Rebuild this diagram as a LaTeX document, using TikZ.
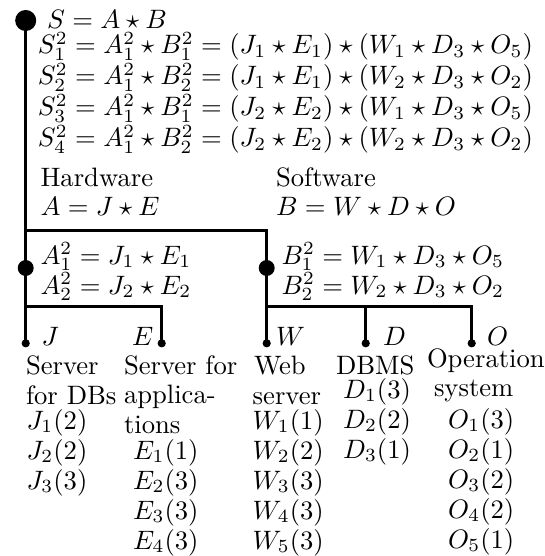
\documentclass[tikz,border=0pt]{standalone}
\begin{document}
\begin{tikzpicture}[x=0.3756pt,y=-0.3756pt,
  txt/.style={anchor=base west, inner sep=0pt, outer sep=0pt},
  bigdot/.style={circle, fill=black, draw=none, inner sep=0pt, minimum size=7.9pt},
  middot/.style={circle, fill=black, draw=none, inner sep=0pt, minimum size=6.0pt},
  leafdot/.style={circle, fill=black, draw=none, inner sep=0pt, minimum size=3.1pt},
  conn/.style={line width=1.0pt, black}]
\useasboundingbox (0,0) rectangle (544,556);
% dots
\node[bigdot] (S) at (25.7,20.5) {};
\node[middot] (A) at (25.7,268) {};
\node[middot] (B) at (266.7,268) {};
\node[leafdot] (J) at (25.7,343.3) {};
\node[leafdot] (E) at (161.7,343.3) {};
\node[leafdot] (W) at (266.7,343.3) {};
\node[leafdot] (D) at (365.7,343.3) {};
\node[leafdot] (O) at (471.7,343.3) {};
\coordinate (h1) at (25.7,230.7);
\coordinate (h2) at (25.7,306.7);
\coordinate (h3) at (266.7,306.7);
\coordinate (h4) at (365.7,306.7);
% connectors
\draw[conn] (S.center) -- (A.center) -- (J.center);
\draw[conn] (h1) -| (B.center) -- (W.center);
\draw[conn] (h2) -| (E.center);
\draw[conn] (h3) -| (O.center);
\draw[conn] (h4) -- (D.center);
% top texts
\node[txt] (tS) at (47,28.5) {$S = A \star B$};
\node[txt] (tS1) at (38,54) {$S^2_1 = A^2_1 \star B^2_1 = (J_1 \star E_1) \star (W_1 \star D_3 \star O_5)$};
\node[txt] (tS2) at (38,85) {$S^2_2 = A^2_1 \star B^2_2 = (J_1 \star E_1) \star (W_2 \star D_3 \star O_2)$};
\node[txt] (tS3) at (38,116) {$S^2_3 = A^2_1 \star B^2_1 = (J_2 \star E_2) \star (W_1 \star D_3 \star O_5)$};
\node[txt] (tS4) at (38,147) {$S^2_4 = A^2_1 \star B^2_2 = (J_2 \star E_2) \star (W_2 \star D_3 \star O_2)$};
\node[txt] (tH) at (40.5,186) {Hardware};
\node[txt] (tA) at (40.5,216) {$A = J \star E$};
\node[txt] (tSw) at (276,186) {Software};
\node[txt] (tB) at (276,216) {$B = W \star D \star O$};
\node[txt] (tA1) at (40.5,264) {$A^2_1 = J_1 \star E_1$};
\node[txt] (tA2) at (40.5,294) {$A^2_2 = J_2 \star E_2$};
\node[txt] (tB1) at (281.5,264) {$B^2_1 = W_1 \star D_3 \star O_5$};
\node[txt] (tB2) at (281.5,294) {$B^2_2 = W_2 \star D_3 \star O_2$};
% leaf labels
\node[txt] (lJ) at (41.7,345) {$J$};
\node[txt] (lE) at (132,345) {$E$};
\node[txt] (lW) at (276,345) {$W$};
\node[txt] (lD) at (383,345) {$D$};
\node[txt] (lO) at (487,345) {$O$};
% J column
\node[txt] (j0) at (26,374) {Server};
\node[txt] (j1) at (26,404) {for DBs};
\node[txt] (j2) at (26.7,429) {$J_1(2)$};
\node[txt] (j3) at (26.7,459) {$J_2(2)$};
\node[txt] (j4) at (26.7,489) {$J_3(3)$};
% E column
\node[txt] (e0) at (124,374) {Server for};
\node[txt] (e1) at (124,403) {applica-};
\node[txt] (e2) at (124,433) {tions};
\node[txt] (e3) at (133,459) {$E_1(1)$};
\node[txt] (e4) at (133,489) {$E_2(3)$};
\node[txt] (e5) at (133,519) {$E_3(3)$};
\node[txt] (e6) at (133,549) {$E_4(3)$};
% W column
\node[txt] (w0) at (254,374) {Web};
\node[txt] (w1) at (252.7,404) {server};
\node[txt] (w2) at (252.7,429) {$W_1(1)$};
\node[txt] (w3) at (252.7,459) {$W_2(2)$};
\node[txt] (w4) at (252.7,489) {$W_3(3)$};
\node[txt] (w5) at (252.7,519) {$W_4(3)$};
\node[txt] (w6) at (252.7,549) {$W_5(3)$};
% D column
\node[txt] (d0) at (336,374) {DBMS};
\node[txt] (d1) at (343,398) {$D_1(3)$};
\node[txt] (d2) at (343,428) {$D_2(2)$};
\node[txt] (d3) at (343,458) {$D_3(1)$};
% O column
\node[txt] (o0) at (427,367) {Operation};
\node[txt] (o1) at (434,396) {system};
\node[txt] (o2) at (448,428) {$O_1(3)$};
\node[txt] (o3) at (448,458) {$O_2(1)$};
\node[txt] (o4) at (448,488) {$O_3(2)$};
\node[txt] (o5) at (448,518) {$O_4(2)$};
\node[txt] (o6) at (448,548) {$O_5(1)$};
\end{tikzpicture}
\end{document}
